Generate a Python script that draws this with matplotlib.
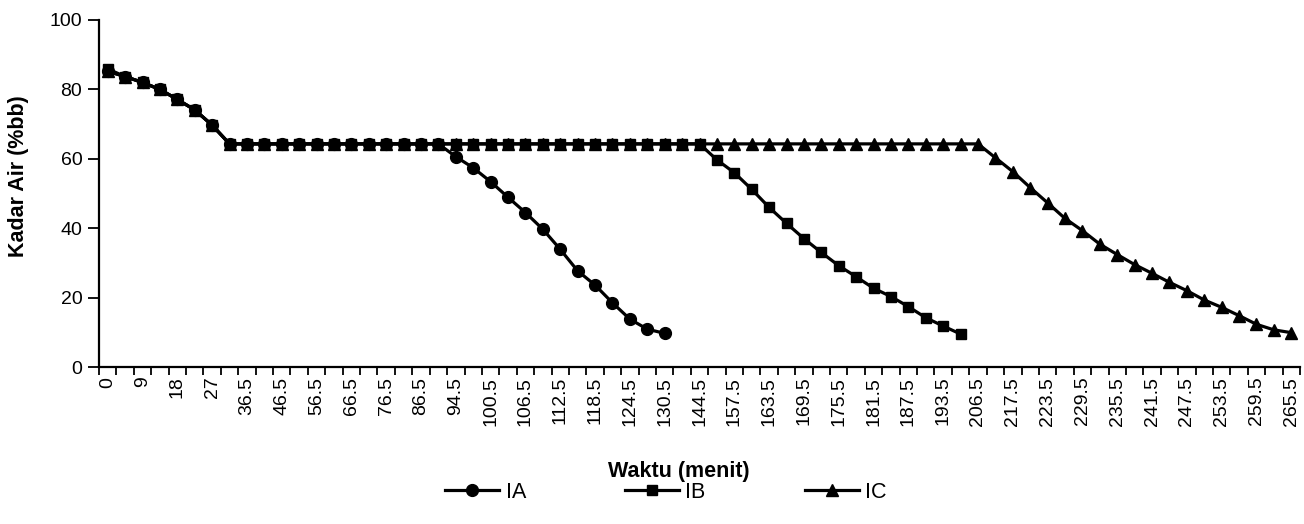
import numpy as np
import matplotlib
matplotlib.use("Agg")
import matplotlib.pyplot as plt

plt.rcParams['font.family'] = ['Liberation Sans', 'DejaVu Sans']

# x axis: 69 categories, only every other one carries a label
n_categories = 69
tick_labels = ['0', '9', '18', '27', '36.5', '46.5', '56.5', '66.5', '76.5', '86.5',
               '94.5', '100.5', '106.5', '112.5', '118.5', '124.5', '130.5', '144.5',
               '157.5', '163.5', '169.5', '175.5', '181.5', '187.5', '193.5', '206.5',
               '217.5', '223.5', '229.5', '235.5', '241.5', '247.5', '253.5', '259.5',
               '265.5']

# Kadar air (%bb) per category
start = [85.2, 83.7, 82.0, 80.0, 77.1, 74.1, 69.7]
ia = start + [64.3] * 13 + [60.6, 57.4, 53.4, 48.9, 44.5, 39.7, 33.9, 27.7, 23.6,
                            18.5, 13.8, 10.9, 9.7]
ib = [85.9] + start[1:] + [64.3] * 28 + [59.7, 56.0, 51.2, 46.0, 41.4, 37.0, 33.0, 29.2,
                                         26.0, 22.7, 20.3, 17.4, 14.2, 11.8, 9.5]
ic = start + [64.3] * 44 + [60.3, 56.3, 51.7, 47.3, 42.8, 39.3, 35.4, 32.4, 29.5, 27.0,
                            24.4, 22.0, 19.3, 17.2, 14.8, 12.3, 10.7, 9.9]

fig = plt.figure(figsize=(13.04, 5.24), dpi=100)
ax = fig.add_axes([99 / 1304, 1 - 367 / 524, 1201 / 1304, 347 / 524])

ax.plot(np.arange(len(ia)), ia, color='black', lw=2.3, marker='o', ms=8.5, label='IA')
ax.plot(np.arange(len(ib)), ib, color='black', lw=2.3, marker='s', ms=7.5, label='IB')
ax.plot(np.arange(len(ic)), ic, color='black', lw=2.3, marker='^', ms=8.5, label='IC')

ax.set_xlim(-0.5, n_categories - 0.5)
ax.set_ylim(0, 100)
ax.set_yticks(np.arange(0, 101, 20))
ax.set_xticks(np.arange(0, n_categories, 2))
ax.set_xticklabels(tick_labels, rotation=90)
ax.set_xticks(np.arange(-0.5, n_categories, 1), minor=True)
ax.tick_params(axis='x', which='major', length=0, pad=7, labelsize=14)
ax.tick_params(axis='x', which='minor', length=6, width=1.3, direction='out')
ax.tick_params(axis='y', length=8, width=1.3, labelsize=14, pad=4)

for s in ['top', 'right']:
    ax.spines[s].set_visible(False)
for s in ['left', 'bottom']:
    ax.spines[s].set_linewidth(1.6)

ax.set_ylabel('Kadar Air (%bb)', fontsize=15.5, fontweight='bold')
ax.yaxis.set_label_coords(-(99 - 29) / 1201, 0.55)
ax.set_xlabel('Waktu (menit)', fontsize=15.5, fontweight='bold')
ax.xaxis.set_label_coords(0.483, -0.27)

fig.legend(loc='center', bbox_to_anchor=(666 / 1304, 1 - 492 / 524), ncol=3,
           frameon=False, fontsize=15.5, handlelength=2.5, columnspacing=4.6,
           handletextpad=0.3)

fig.savefig('out.png', dpi=100)
